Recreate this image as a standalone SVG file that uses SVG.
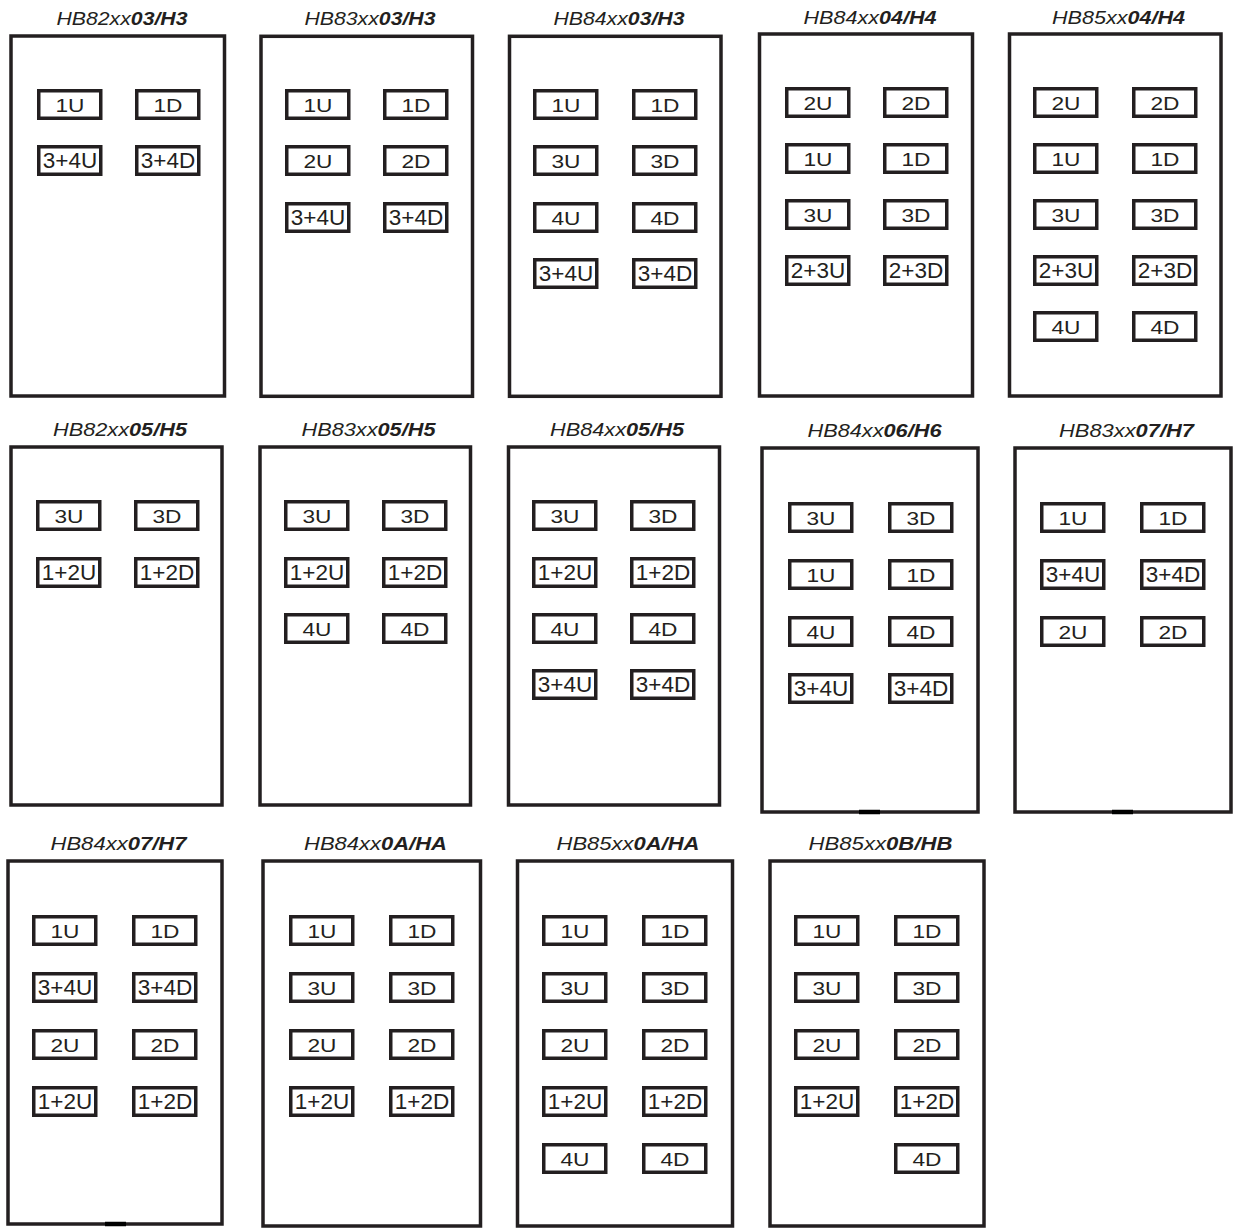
<svg xmlns="http://www.w3.org/2000/svg" width="1235" height="1228" viewBox="0 0 1235 1228">
<style>
.panel{fill:none;stroke:#231f20;stroke-width:3.5}
.b rect{fill:#fff;stroke:#231f20;stroke-width:3.5}
.b text{font-family:"Liberation Sans",Arial,sans-serif;font-size:19px;fill:#231f20;text-anchor:middle}
.b.w text{font-size:22.5px}
.t{font-family:"Liberation Sans",Arial,sans-serif;font-style:italic;font-size:18.8px;fill:#231f20;text-anchor:middle}
.bd{font-weight:bold}
.mark{stroke:#000;stroke-width:4.5}
</style>
<rect width="1235" height="1228" fill="#fff"/>

<g id="p1">
<text class="t" x="122" y="25" textLength="131" lengthAdjust="spacingAndGlyphs">HB82xx<tspan class="bd">03/H3</tspan></text>
<rect class="panel" x="11" y="36" width="213.5" height="360"/>
<g class="b"><rect x="38.75" y="90.75" width="62" height="27.5"/><text x="70" y="112" textLength="29" lengthAdjust="spacingAndGlyphs">1U</text></g>
<g class="b"><rect x="136.75" y="90.75" width="62" height="27.5"/><text x="168" y="112" textLength="29" lengthAdjust="spacingAndGlyphs">1D</text></g>
<g class="b w"><rect x="38.75" y="146.75" width="62" height="27.5"/><text x="70" y="168">3+4U</text></g>
<g class="b w"><rect x="136.75" y="146.75" width="62" height="27.5"/><text x="168" y="168">3+4D</text></g>
</g>

<g id="p2">
<text class="t" x="370" y="25" textLength="131" lengthAdjust="spacingAndGlyphs">HB83xx<tspan class="bd">03/H3</tspan></text>
<rect class="panel" x="261" y="36.3" width="211.5" height="360"/>
<g class="b"><rect x="286.75" y="90.75" width="62" height="27.5"/><text x="318" y="112" textLength="29" lengthAdjust="spacingAndGlyphs">1U</text></g>
<g class="b"><rect x="384.75" y="90.75" width="62" height="27.5"/><text x="416" y="112" textLength="29" lengthAdjust="spacingAndGlyphs">1D</text></g>
<g class="b"><rect x="286.75" y="146.75" width="62" height="27.5"/><text x="318" y="168" textLength="29" lengthAdjust="spacingAndGlyphs">2U</text></g>
<g class="b"><rect x="384.75" y="146.75" width="62" height="27.5"/><text x="416" y="168" textLength="29" lengthAdjust="spacingAndGlyphs">2D</text></g>
<g class="b w"><rect x="286.75" y="203.75" width="62" height="27.5"/><text x="318" y="225">3+4U</text></g>
<g class="b w"><rect x="384.75" y="203.75" width="62" height="27.5"/><text x="416" y="225">3+4D</text></g>
</g>

<g id="p3">
<text class="t" x="619" y="25" textLength="131" lengthAdjust="spacingAndGlyphs">HB84xx<tspan class="bd">03/H3</tspan></text>
<rect class="panel" x="509.5" y="36.3" width="211.5" height="360"/>
<g class="b"><rect x="534.75" y="90.75" width="62" height="27.5"/><text x="566" y="112" textLength="29" lengthAdjust="spacingAndGlyphs">1U</text></g>
<g class="b"><rect x="633.75" y="90.75" width="62" height="27.5"/><text x="665" y="112" textLength="29" lengthAdjust="spacingAndGlyphs">1D</text></g>
<g class="b"><rect x="534.75" y="146.75" width="62" height="27.5"/><text x="566" y="168" textLength="29" lengthAdjust="spacingAndGlyphs">3U</text></g>
<g class="b"><rect x="633.75" y="146.75" width="62" height="27.5"/><text x="665" y="168" textLength="29" lengthAdjust="spacingAndGlyphs">3D</text></g>
<g class="b"><rect x="534.75" y="203.75" width="62" height="27.5"/><text x="566" y="225" textLength="29" lengthAdjust="spacingAndGlyphs">4U</text></g>
<g class="b"><rect x="633.75" y="203.75" width="62" height="27.5"/><text x="665" y="225" textLength="29" lengthAdjust="spacingAndGlyphs">4D</text></g>
<g class="b w"><rect x="534.75" y="259.75" width="62" height="27.5"/><text x="566" y="281">3+4U</text></g>
<g class="b w"><rect x="633.75" y="259.75" width="62" height="27.5"/><text x="665" y="281">3+4D</text></g>
</g>

<g id="p4">
<text class="t" x="870" y="23.5" textLength="133" lengthAdjust="spacingAndGlyphs">HB84xx<tspan class="bd">04/H4</tspan></text>
<rect class="panel" x="759.5" y="34" width="213" height="362"/>
<g class="b"><rect x="786.75" y="88.75" width="62" height="27.5"/><text x="818" y="110" textLength="29" lengthAdjust="spacingAndGlyphs">2U</text></g>
<g class="b"><rect x="884.75" y="88.75" width="62" height="27.5"/><text x="916" y="110" textLength="29" lengthAdjust="spacingAndGlyphs">2D</text></g>
<g class="b"><rect x="786.75" y="144.75" width="62" height="27.5"/><text x="818" y="166" textLength="29" lengthAdjust="spacingAndGlyphs">1U</text></g>
<g class="b"><rect x="884.75" y="144.75" width="62" height="27.5"/><text x="916" y="166" textLength="29" lengthAdjust="spacingAndGlyphs">1D</text></g>
<g class="b"><rect x="786.75" y="200.75" width="62" height="27.5"/><text x="818" y="222" textLength="29" lengthAdjust="spacingAndGlyphs">3U</text></g>
<g class="b"><rect x="884.75" y="200.75" width="62" height="27.5"/><text x="916" y="222" textLength="29" lengthAdjust="spacingAndGlyphs">3D</text></g>
<g class="b w"><rect x="786.75" y="256.75" width="62" height="27.5"/><text x="818" y="278">2+3U</text></g>
<g class="b w"><rect x="884.75" y="256.75" width="62" height="27.5"/><text x="916" y="278">2+3D</text></g>
</g>

<g id="p5">
<text class="t" x="1118.5" y="23.5" textLength="133" lengthAdjust="spacingAndGlyphs">HB85xx<tspan class="bd">04/H4</tspan></text>
<rect class="panel" x="1009.5" y="34" width="211.5" height="362"/>
<g class="b"><rect x="1034.75" y="88.75" width="62" height="27.5"/><text x="1066" y="110" textLength="29" lengthAdjust="spacingAndGlyphs">2U</text></g>
<g class="b"><rect x="1133.75" y="88.75" width="62" height="27.5"/><text x="1165" y="110" textLength="29" lengthAdjust="spacingAndGlyphs">2D</text></g>
<g class="b"><rect x="1034.75" y="144.75" width="62" height="27.5"/><text x="1066" y="166" textLength="29" lengthAdjust="spacingAndGlyphs">1U</text></g>
<g class="b"><rect x="1133.75" y="144.75" width="62" height="27.5"/><text x="1165" y="166" textLength="29" lengthAdjust="spacingAndGlyphs">1D</text></g>
<g class="b"><rect x="1034.75" y="200.75" width="62" height="27.5"/><text x="1066" y="222" textLength="29" lengthAdjust="spacingAndGlyphs">3U</text></g>
<g class="b"><rect x="1133.75" y="200.75" width="62" height="27.5"/><text x="1165" y="222" textLength="29" lengthAdjust="spacingAndGlyphs">3D</text></g>
<g class="b w"><rect x="1034.75" y="256.75" width="62" height="27.5"/><text x="1066" y="278">2+3U</text></g>
<g class="b w"><rect x="1133.75" y="256.75" width="62" height="27.5"/><text x="1165" y="278">2+3D</text></g>
<g class="b"><rect x="1034.75" y="312.75" width="62" height="27.5"/><text x="1066" y="334" textLength="29" lengthAdjust="spacingAndGlyphs">4U</text></g>
<g class="b"><rect x="1133.75" y="312.75" width="62" height="27.5"/><text x="1165" y="334" textLength="29" lengthAdjust="spacingAndGlyphs">4D</text></g>
</g>

<g id="p6">
<text class="t" x="120" y="436" textLength="134" lengthAdjust="spacingAndGlyphs">HB82xx<tspan class="bd">05/H5</tspan></text>
<rect class="panel" x="11" y="447" width="211" height="358"/>
<g class="b"><rect x="37.75" y="501.75" width="62" height="27.5"/><text x="69" y="523" textLength="29" lengthAdjust="spacingAndGlyphs">3U</text></g>
<g class="b"><rect x="135.75" y="501.75" width="62" height="27.5"/><text x="167" y="523" textLength="29" lengthAdjust="spacingAndGlyphs">3D</text></g>
<g class="b w"><rect x="37.75" y="558.75" width="62" height="27.5"/><text x="69" y="580">1+2U</text></g>
<g class="b w"><rect x="135.75" y="558.75" width="62" height="27.5"/><text x="167" y="580">1+2D</text></g>
</g>

<g id="p7">
<text class="t" x="368.5" y="436" textLength="134" lengthAdjust="spacingAndGlyphs">HB83xx<tspan class="bd">05/H5</tspan></text>
<rect class="panel" x="260" y="447" width="210.5" height="358"/>
<g class="b"><rect x="285.75" y="501.75" width="62" height="27.5"/><text x="317" y="523" textLength="29" lengthAdjust="spacingAndGlyphs">3U</text></g>
<g class="b"><rect x="383.75" y="501.75" width="62" height="27.5"/><text x="415" y="523" textLength="29" lengthAdjust="spacingAndGlyphs">3D</text></g>
<g class="b w"><rect x="285.75" y="558.75" width="62" height="27.5"/><text x="317" y="580">1+2U</text></g>
<g class="b w"><rect x="383.75" y="558.75" width="62" height="27.5"/><text x="415" y="580">1+2D</text></g>
<g class="b"><rect x="285.75" y="614.75" width="62" height="27.5"/><text x="317" y="636" textLength="29" lengthAdjust="spacingAndGlyphs">4U</text></g>
<g class="b"><rect x="383.75" y="614.75" width="62" height="27.5"/><text x="415" y="636" textLength="29" lengthAdjust="spacingAndGlyphs">4D</text></g>
</g>

<g id="p8">
<text class="t" x="617" y="436" textLength="134" lengthAdjust="spacingAndGlyphs">HB84xx<tspan class="bd">05/H5</tspan></text>
<rect class="panel" x="508.5" y="447" width="211" height="358"/>
<g class="b"><rect x="533.75" y="501.75" width="62" height="27.5"/><text x="565" y="523" textLength="29" lengthAdjust="spacingAndGlyphs">3U</text></g>
<g class="b"><rect x="631.75" y="501.75" width="62" height="27.5"/><text x="663" y="523" textLength="29" lengthAdjust="spacingAndGlyphs">3D</text></g>
<g class="b w"><rect x="533.75" y="558.75" width="62" height="27.5"/><text x="565" y="580">1+2U</text></g>
<g class="b w"><rect x="631.75" y="558.75" width="62" height="27.5"/><text x="663" y="580">1+2D</text></g>
<g class="b"><rect x="533.75" y="614.75" width="62" height="27.5"/><text x="565" y="636" textLength="29" lengthAdjust="spacingAndGlyphs">4U</text></g>
<g class="b"><rect x="631.75" y="614.75" width="62" height="27.5"/><text x="663" y="636" textLength="29" lengthAdjust="spacingAndGlyphs">4D</text></g>
<g class="b w"><rect x="533.75" y="670.75" width="62" height="27.5"/><text x="565" y="692">3+4U</text></g>
<g class="b w"><rect x="631.75" y="670.75" width="62" height="27.5"/><text x="663" y="692">3+4D</text></g>
</g>

<g id="p9">
<text class="t" x="874.5" y="436.5" textLength="134" lengthAdjust="spacingAndGlyphs">HB84xx<tspan class="bd">06/H6</tspan></text>
<rect class="panel" x="762" y="448" width="216" height="364"/>
<line class="mark" x1="859" y1="812" x2="880" y2="812"/>
<g class="b"><rect x="789.75" y="503.75" width="62" height="27.5"/><text x="821" y="525" textLength="29" lengthAdjust="spacingAndGlyphs">3U</text></g>
<g class="b"><rect x="889.75" y="503.75" width="62" height="27.5"/><text x="921" y="525" textLength="29" lengthAdjust="spacingAndGlyphs">3D</text></g>
<g class="b"><rect x="789.75" y="560.75" width="62" height="27.5"/><text x="821" y="582" textLength="29" lengthAdjust="spacingAndGlyphs">1U</text></g>
<g class="b"><rect x="889.75" y="560.75" width="62" height="27.5"/><text x="921" y="582" textLength="29" lengthAdjust="spacingAndGlyphs">1D</text></g>
<g class="b"><rect x="789.75" y="617.75" width="62" height="27.5"/><text x="821" y="639" textLength="29" lengthAdjust="spacingAndGlyphs">4U</text></g>
<g class="b"><rect x="889.75" y="617.75" width="62" height="27.5"/><text x="921" y="639" textLength="29" lengthAdjust="spacingAndGlyphs">4D</text></g>
<g class="b w"><rect x="789.75" y="674.75" width="62" height="27.5"/><text x="821" y="696">3+4U</text></g>
<g class="b w"><rect x="889.75" y="674.75" width="62" height="27.5"/><text x="921" y="696">3+4D</text></g>
</g>

<g id="p10">
<text class="t" x="1126.5" y="436.5" textLength="135" lengthAdjust="spacingAndGlyphs">HB83xx<tspan class="bd">07/H7</tspan></text>
<rect class="panel" x="1015" y="448" width="216" height="364"/>
<line class="mark" x1="1112" y1="812" x2="1133" y2="812"/>
<g class="b"><rect x="1041.75" y="503.75" width="62" height="27.5"/><text x="1073" y="525" textLength="29" lengthAdjust="spacingAndGlyphs">1U</text></g>
<g class="b"><rect x="1141.75" y="503.75" width="62" height="27.5"/><text x="1173" y="525" textLength="29" lengthAdjust="spacingAndGlyphs">1D</text></g>
<g class="b w"><rect x="1041.75" y="560.75" width="62" height="27.5"/><text x="1073" y="582">3+4U</text></g>
<g class="b w"><rect x="1141.75" y="560.75" width="62" height="27.5"/><text x="1173" y="582">3+4D</text></g>
<g class="b"><rect x="1041.75" y="617.75" width="62" height="27.5"/><text x="1073" y="639" textLength="29" lengthAdjust="spacingAndGlyphs">2U</text></g>
<g class="b"><rect x="1141.75" y="617.75" width="62" height="27.5"/><text x="1173" y="639" textLength="29" lengthAdjust="spacingAndGlyphs">2D</text></g>
</g>

<g id="p11">
<text class="t" x="118.5" y="850" textLength="136" lengthAdjust="spacingAndGlyphs">HB84xx<tspan class="bd">07/H7</tspan></text>
<rect class="panel" x="8" y="861" width="214" height="363"/>
<line class="mark" x1="105" y1="1224" x2="126" y2="1224"/>
<g class="b"><rect x="33.75" y="916.75" width="62" height="27.5"/><text x="65" y="938" textLength="29" lengthAdjust="spacingAndGlyphs">1U</text></g>
<g class="b"><rect x="133.75" y="916.75" width="62" height="27.5"/><text x="165" y="938" textLength="29" lengthAdjust="spacingAndGlyphs">1D</text></g>
<g class="b w"><rect x="33.75" y="973.75" width="62" height="27.5"/><text x="65" y="995">3+4U</text></g>
<g class="b w"><rect x="133.75" y="973.75" width="62" height="27.5"/><text x="165" y="995">3+4D</text></g>
<g class="b"><rect x="33.75" y="1030.75" width="62" height="27.5"/><text x="65" y="1052" textLength="29" lengthAdjust="spacingAndGlyphs">2U</text></g>
<g class="b"><rect x="133.75" y="1030.75" width="62" height="27.5"/><text x="165" y="1052" textLength="29" lengthAdjust="spacingAndGlyphs">2D</text></g>
<g class="b w"><rect x="33.75" y="1087.75" width="62" height="27.5"/><text x="65" y="1109">1+2U</text></g>
<g class="b w"><rect x="133.75" y="1087.75" width="62" height="27.5"/><text x="165" y="1109">1+2D</text></g>
</g>

<g id="p12">
<text class="t" x="375.5" y="850" textLength="143" lengthAdjust="spacingAndGlyphs">HB84xx<tspan class="bd">0A/HA</tspan></text>
<rect class="panel" x="263" y="861" width="217.5" height="365"/>
<g class="b"><rect x="290.75" y="916.75" width="62" height="27.5"/><text x="322" y="938" textLength="29" lengthAdjust="spacingAndGlyphs">1U</text></g>
<g class="b"><rect x="390.75" y="916.75" width="62" height="27.5"/><text x="422" y="938" textLength="29" lengthAdjust="spacingAndGlyphs">1D</text></g>
<g class="b"><rect x="290.75" y="973.75" width="62" height="27.5"/><text x="322" y="995" textLength="29" lengthAdjust="spacingAndGlyphs">3U</text></g>
<g class="b"><rect x="390.75" y="973.75" width="62" height="27.5"/><text x="422" y="995" textLength="29" lengthAdjust="spacingAndGlyphs">3D</text></g>
<g class="b"><rect x="290.75" y="1030.75" width="62" height="27.5"/><text x="322" y="1052" textLength="29" lengthAdjust="spacingAndGlyphs">2U</text></g>
<g class="b"><rect x="390.75" y="1030.75" width="62" height="27.5"/><text x="422" y="1052" textLength="29" lengthAdjust="spacingAndGlyphs">2D</text></g>
<g class="b w"><rect x="290.75" y="1087.75" width="62" height="27.5"/><text x="322" y="1109">1+2U</text></g>
<g class="b w"><rect x="390.75" y="1087.75" width="62" height="27.5"/><text x="422" y="1109">1+2D</text></g>
</g>

<g id="p13">
<text class="t" x="628" y="850" textLength="143" lengthAdjust="spacingAndGlyphs">HB85xx<tspan class="bd">0A/HA</tspan></text>
<rect class="panel" x="517.5" y="861" width="215" height="365"/>
<g class="b"><rect x="543.75" y="916.75" width="62" height="27.5"/><text x="575" y="938" textLength="29" lengthAdjust="spacingAndGlyphs">1U</text></g>
<g class="b"><rect x="643.75" y="916.75" width="62" height="27.5"/><text x="675" y="938" textLength="29" lengthAdjust="spacingAndGlyphs">1D</text></g>
<g class="b"><rect x="543.75" y="973.75" width="62" height="27.5"/><text x="575" y="995" textLength="29" lengthAdjust="spacingAndGlyphs">3U</text></g>
<g class="b"><rect x="643.75" y="973.75" width="62" height="27.5"/><text x="675" y="995" textLength="29" lengthAdjust="spacingAndGlyphs">3D</text></g>
<g class="b"><rect x="543.75" y="1030.75" width="62" height="27.5"/><text x="575" y="1052" textLength="29" lengthAdjust="spacingAndGlyphs">2U</text></g>
<g class="b"><rect x="643.75" y="1030.75" width="62" height="27.5"/><text x="675" y="1052" textLength="29" lengthAdjust="spacingAndGlyphs">2D</text></g>
<g class="b w"><rect x="543.75" y="1087.75" width="62" height="27.5"/><text x="575" y="1109">1+2U</text></g>
<g class="b w"><rect x="643.75" y="1087.75" width="62" height="27.5"/><text x="675" y="1109">1+2D</text></g>
<g class="b"><rect x="543.75" y="1144.75" width="62" height="27.5"/><text x="575" y="1166" textLength="29" lengthAdjust="spacingAndGlyphs">4U</text></g>
<g class="b"><rect x="643.75" y="1144.75" width="62" height="27.5"/><text x="675" y="1166" textLength="29" lengthAdjust="spacingAndGlyphs">4D</text></g>
</g>

<g id="p14">
<text class="t" x="880.5" y="850" textLength="144" lengthAdjust="spacingAndGlyphs">HB85xx<tspan class="bd">0B/HB</tspan></text>
<rect class="panel" x="770" y="861" width="214" height="365"/>
<g class="b"><rect x="795.75" y="916.75" width="62" height="27.5"/><text x="827" y="938" textLength="29" lengthAdjust="spacingAndGlyphs">1U</text></g>
<g class="b"><rect x="895.75" y="916.75" width="62" height="27.5"/><text x="927" y="938" textLength="29" lengthAdjust="spacingAndGlyphs">1D</text></g>
<g class="b"><rect x="795.75" y="973.75" width="62" height="27.5"/><text x="827" y="995" textLength="29" lengthAdjust="spacingAndGlyphs">3U</text></g>
<g class="b"><rect x="895.75" y="973.75" width="62" height="27.5"/><text x="927" y="995" textLength="29" lengthAdjust="spacingAndGlyphs">3D</text></g>
<g class="b"><rect x="795.75" y="1030.75" width="62" height="27.5"/><text x="827" y="1052" textLength="29" lengthAdjust="spacingAndGlyphs">2U</text></g>
<g class="b"><rect x="895.75" y="1030.75" width="62" height="27.5"/><text x="927" y="1052" textLength="29" lengthAdjust="spacingAndGlyphs">2D</text></g>
<g class="b w"><rect x="795.75" y="1087.75" width="62" height="27.5"/><text x="827" y="1109">1+2U</text></g>
<g class="b w"><rect x="895.75" y="1087.75" width="62" height="27.5"/><text x="927" y="1109">1+2D</text></g>
<g class="b"><rect x="895.75" y="1144.75" width="62" height="27.5"/><text x="927" y="1166" textLength="29" lengthAdjust="spacingAndGlyphs">4D</text></g>
</g>

<g id="connectors"/>
</svg>
